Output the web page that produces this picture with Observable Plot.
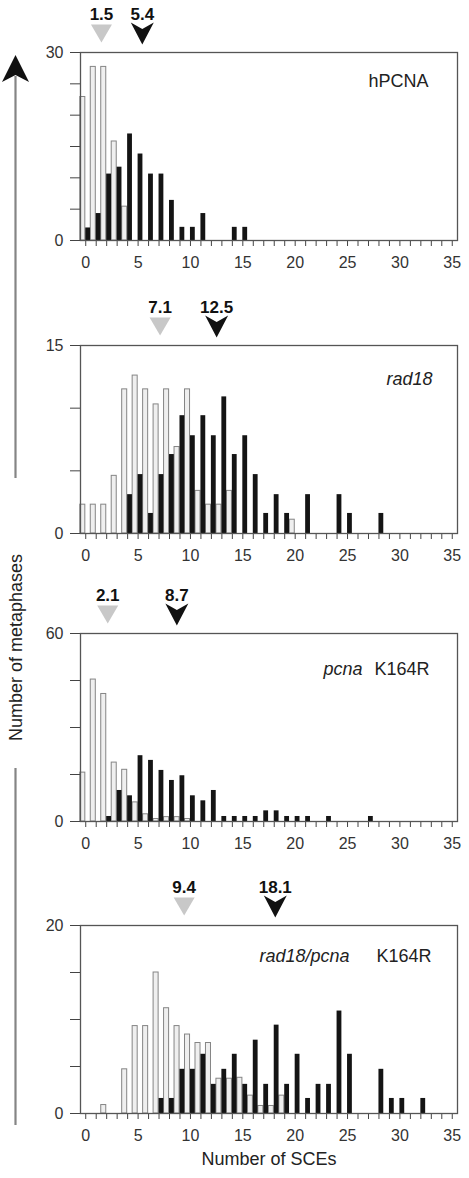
<!DOCTYPE html>
<html>
<head>
<meta charset="utf-8">
<script src="https://cdn.jsdelivr.net/npm/d3@7"></script>
<script src="https://cdn.jsdelivr.net/npm/@observablehq/plot@0.6"></script>
<style>
  html, body { margin: 0; padding: 0; background: #fff; }
  #root { position: relative; width: 469px; height: 1178px; overflow: hidden; background: #fff;
          font-family: "Liberation Sans", Arial, Helvetica, sans-serif; }
  .panel { position: absolute; left: 0; }
  .panel svg { display: block; }
</style>
</head>
<body>
<div id="root"></div>
<script>
// ---------- data (values per SCE bin, starting at bin 0) ----------
const bins = d3.range(0, 36);

const hpcnaGray  = [22.9, 27.7, 27.7, 15.8, 5.4];
const hpcnaBlack = [2.0, 4.3, 10.6, 11.7, 17.0, 13.8, 10.6, 10.6, 6.4, 2.1, 2.1, 4.3, 0, 0, 2.1, 2.1];

const rad18Gray  = [2.3, 2.3, 2.3, 4.6, 11.5, 12.6, 11.5, 10.3, 11.5, 6.9, 11.5, 3.4, 2.3, 2.3, 3.4, 0, 0, 0, 0, 0, 1.1];
const rad18Black = [0, 0, 0, 0, 3.1, 4.7, 1.6, 4.7, 6.3, 9.4, 7.8, 9.4, 7.8, 10.9, 6.3, 7.8, 4.7, 1.6, 3.1, 1.6, 0, 3.1, 0, 0, 3.1, 1.6, 0, 0, 1.6];

const pcnaGray  = [15.6, 45.3, 40.7, 18.8, 16.5, 6.1, 2.3, 0.8, 1.4, 1.4, 0.8];
const pcnaBlack = [0, 0, 1.6, 9.9, 8.2, 21.0, 19.5, 16.3, 13.1, 14.6, 8.2, 6.6, 9.9, 1.6, 1.6, 1.6, 1.6, 3.4, 3.4, 1.6, 1.6, 1.6, 0, 1.6, 0, 0, 0, 1.6];

const dblGray  = [0, 0, 0.9, 0, 4.7, 9.3, 9.3, 15.0, 11.2, 9.3, 8.4, 7.5, 7.5, 3.7, 3.7, 3.8, 1.9, 0.8, 0.8, 1.9];
const dblBlack = [0, 0, 0, 0, 0, 0, 0, 1.6, 1.6, 4.7, 4.7, 6.3, 3.1, 4.7, 6.3, 3.1, 7.8, 3.1, 9.4, 3.1, 6.3, 1.6, 3.1, 3.1, 10.9, 6.3, 0, 0, 4.7, 1.6, 1.6, 0, 1.6];

const meansGray  = [1.5, 7.1, 2.1, 9.4];
const meansBlack = [5.4, 12.5, 8.7, 18.1];

const yMaxes = [30, 15, 60, 20];
const yTickSteps = [5, 5, 15, 5];

const labelItalic = ["", "rad18", "pcna", "rad18/pcna"];
const labelRegular = ["hPCNA", "", "K164R", "K164R"];

const xTitle = "Number of SCEs";
const yTitle = "Number of metaphases";

// ---------- layout ----------
const FONT = "Liberation Sans, Arial, Helvetica, sans-serif";
const panelTops = [0, 293, 581, 873];
const panelHeights = [290, 290, 290, 305];
const labelDy = [22, 27, 29, 24];
const italicDx = [0, -25, -95, -108];
const regularDx = [-29, 0, -28, -26];

const grayTri = {
  draw(ctx, size) {
    const r = Math.sqrt(size / Math.PI);
    ctx.moveTo(-r, -r * 0.86);
    ctx.lineTo(r, -r * 0.86);
    ctx.lineTo(0, r * 0.86);
    ctx.closePath();
  }
};
const blackArrow = {
  draw(ctx, size) {
    const r = Math.sqrt(size / Math.PI);
    ctx.moveTo(-r, -r * 0.95);
    ctx.lineTo(0, -r * 0.4);
    ctx.lineTo(r, -r * 0.95);
    ctx.lineTo(0, r * 0.95);
    ctx.closePath();
  }
};

function toBars(arr) {
  return arr.map((v, i) => ({bin: i, v})).filter(d => d.v > 0);
}

function makePanel(i, gray, black) {
  const yMax = yMaxes[i];
  const yTicks = d3.range(0, yMax + 0.001, yTickSteps[i]);
  const marks = [
    Plot.rect(toBars(gray), {
      x1: d => d.bin - 0.52, x2: d => d.bin - 0.04, y1: 0, y2: "v",
      fill: "#efefef", stroke: "#858585", strokeWidth: 1
    }),
    Plot.rect(toBars(black), {
      x1: d => d.bin, x2: d => d.bin + 0.46, y1: 0, y2: "v",
      fill: "#141414"
    }),
    Plot.axisX({
      ticks: bins, tickSize: 6, tickPadding: 10,
      tickFormat: d => (d % 5 === 0 ? String(d) : ""),
      label: null, stroke: "#444"
    }),
    Plot.axisY({
      ticks: yTicks, tickSize: 10, tickPadding: 7,
      tickFormat: d => (d === 0 || d === yMax ? String(d) : ""),
      label: null, stroke: "#444"
    }),
    Plot.frame({stroke: "#555", strokeWidth: 1.3}),
    Plot.dot([meansGray[i]], {
      x: d => d, frameAnchor: "top", dy: -19,
      symbol: grayTri, r: 10.5, fill: "#c8c8c8", stroke: "none"
    }),
    Plot.dot([meansBlack[i]], {
      x: d => d, frameAnchor: "top", dy: -19,
      symbol: blackArrow, r: 11.5, fill: "#111", stroke: "none"
    }),
    Plot.text([meansGray[i], meansBlack[i]], {
      x: d => d, text: d => d.toFixed(1), frameAnchor: "top", dy: -45,
      fontWeight: "bold", fontSize: 17, fill: "#111"
    })
  ];
  if (labelItalic[i]) {
    marks.push(Plot.text([labelItalic[i]], {
      text: d => d, frameAnchor: "top-right", dx: italicDx[i], dy: labelDy[i],
      textAnchor: "end", fontStyle: "italic", fontSize: 18, fill: "#222"
    }));
  }
  if (labelRegular[i]) {
    marks.push(Plot.text([labelRegular[i]], {
      text: d => d, frameAnchor: "top-right", dx: regularDx[i], dy: labelDy[i],
      textAnchor: "end", fontSize: 18, fill: "#222"
    }));
  }
  if (i === 3) {
    marks.push(Plot.text([xTitle], {
      text: d => d, frameAnchor: "bottom", dy: 51, fontSize: 18, fill: "#222"
    }));
  }
  return Plot.plot({
    width: 469,
    height: panelHeights[i],
    marginLeft: 80,
    marginRight: 12,
    marginTop: 52,
    marginBottom: panelHeights[i] - 52 - 188,
    style: {fontFamily: FONT, fontSize: "16px", color: "#333", background: "transparent", overflow: "visible"},
    x: {domain: [-0.5, 35.5]},
    y: {domain: [0, yMax]},
    marks
  });
}

const root = document.getElementById("root");
const series = [[hpcnaGray, hpcnaBlack], [rad18Gray, rad18Black], [pcnaGray, pcnaBlack], [dblGray, dblBlack]];
series.forEach(([g, b], i) => {
  const div = document.createElement("div");
  div.className = "panel";
  div.style.top = panelTops[i] + "px";
  div.appendChild(makePanel(i, g, b));
  root.appendChild(div);
});

// ---------- y title with arrow ----------
const ov = d3.create("svg")
  .attr("width", 469).attr("height", 1178)
  .style("position", "absolute").style("left", "0px").style("top", "0px")
  .style("pointer-events", "none").style("font-family", FONT);
ov.append("line").attr("x1", 15.5).attr("x2", 15.5).attr("y1", 76).attr("y2", 478)
  .attr("stroke", "#858585").attr("stroke-width", 2.2);
ov.append("line").attr("x1", 15.5).attr("x2", 15.5).attr("y1", 768).attr("y2", 1125)
  .attr("stroke", "#858585").attr("stroke-width", 2.2);
ov.append("path").attr("d", "M15.5,55 L29,82 L15.5,75 L2,82 Z").attr("fill", "#111");
ov.append("text")
  .attr("transform", "translate(22,647.5) rotate(-90)")
  .attr("text-anchor", "middle")
  .attr("font-size", 18).attr("fill", "#222")
  .text(yTitle);
root.appendChild(ov.node());
</script>
</body>
</html>
